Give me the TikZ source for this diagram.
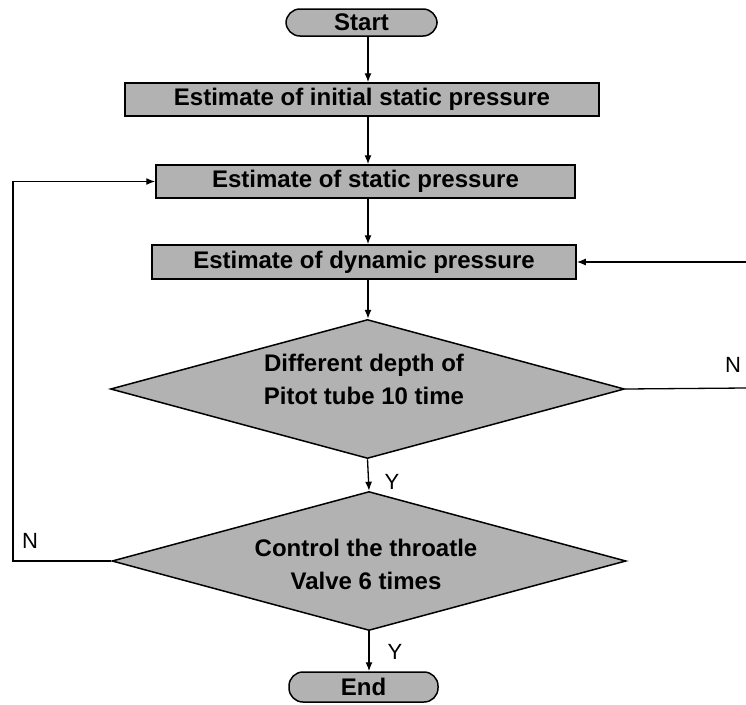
\documentclass[tikz,border=0pt]{standalone}
\usepackage{fontspec}
\setmainfont{Liberation Sans}
\usetikzlibrary{shapes.geometric,arrows.meta}
\begin{document}
\begin{tikzpicture}[x=1pt,y=-1pt,
  every node/.style={font=\bfseries\fontsize{24}{28}\selectfont},
  fillgray/.style={fill=black!30, draw=black, line width=1.5pt},
  pill/.style={fillgray, rectangle, rounded corners=14pt, inner sep=0pt},
  procbox/.style={fillgray, rectangle, inner sep=0pt, minimum height=33pt},
  decision/.style={fillgray, diamond, aspect=3.7, inner sep=0pt,
    minimum width=514pt, minimum height=139pt},
  dtext/.style={align=center, inner sep=0pt, font=\bfseries\fontsize{24}{33}\selectfont},
  line/.style={line width=1.3pt},
  conn/.style={line, -{Latex[length=9pt,width=7pt]}},
  lbl/.style={font=\fontsize{22}{24}\selectfont, inner sep=0pt}
]
\useasboundingbox (0,0) rectangle (746,704);
\node[pill, minimum width=151pt, minimum height=27pt] (start) at (361.5,22.5) {Start};
\node[procbox, minimum width=474pt] (b1) at (362,99.5) {Estimate of initial static pressure};
\node[procbox, minimum width=419pt] (b2) at (365.5,181.5) {Estimate of static pressure};
\node[procbox, minimum width=424pt, minimum height=34pt] (b3) at (364,262) {Estimate of dynamic pressure};
\node[decision] (d1) at (367.5,389) {};
\node[dtext] (t1) at (364,379) {Different depth of\\Pitot tube 10 time};
\node[decision] (d2) at (369,561) {};
\node[dtext] (t2) at (366,564) {Control the throatle\\Valve 6 times};
\node[pill, minimum width=149pt, minimum height=30pt] (end) at (363.5,687) {End};
\coordinate (axis) at (368,0);
\coordinate (rtop) at (746,262);
\coordinate (rbot) at (746,388);
\coordinate (lcorner) at (13,561);
\draw[conn] (start.south -| axis) -- (b1.north -| axis);
\draw[conn] (b1.south -| axis) -- (b2.north -| axis);
\draw[conn] (b2.south -| axis) -- (b3.north -| axis);
\draw[conn] (b3.south -| axis) -- (d1.north -| axis);
\draw[conn] (d1.south) -- (d2.north);
\draw[conn] (d2.south) -- (end.north -| d2.south);
\draw[line] (d1.east) -- (rbot);
\draw[conn] (rtop) -- (b3.east);
\draw[conn] (d2.west) -- (lcorner) |- (b2.west);
\node[lbl] (y1) at (392,482) {Y};
\node[lbl] (y2) at (395,652) {Y};
\node[lbl] (n1) at (733,365) {N};
\node[lbl] (n2) at (30,541) {N};
\end{tikzpicture}
\end{document}
